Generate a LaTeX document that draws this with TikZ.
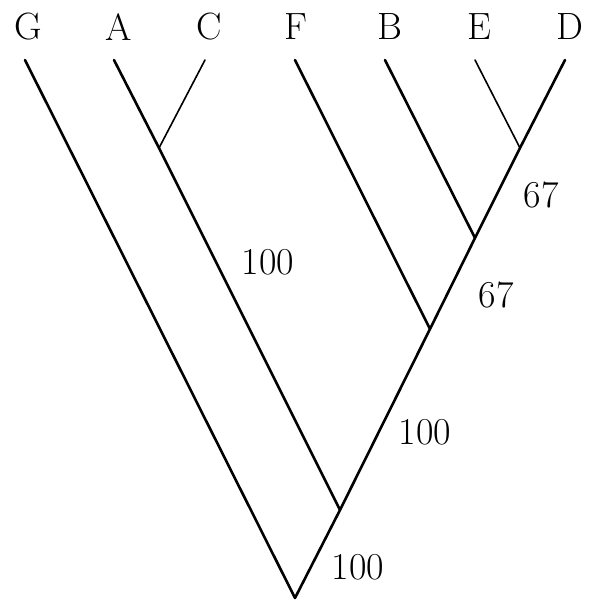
\documentclass[tikz,border=0pt]{standalone}
\usetikzlibrary{positioning}

\begin{document}
\begin{tikzpicture}[x=1pt, y=-1pt, line cap=round,
    branch/.style={line width=2.6pt},
    twig/.style={line width=1.6pt},
    taxon/.style={font=\fontsize{38}{40}\selectfont, inner sep=0pt},
    support/.style={font=\fontsize{38}{40}\selectfont, inner sep=0pt}]
    \useasboundingbox (0,0) rectangle (590,605);

    % internal nodes
    \coordinate (root) at (295,598);
    \coordinate (nAD) at (340,510);
    \coordinate (nFD) at (430,329);
    \coordinate (nBD) at (475,238);
    \coordinate (nED) at (520,148);
    \coordinate (nAC) at (159,148);

    % leaf tips
    \coordinate (tG) at (25,60);
    \coordinate (tA) at (114,60);
    \coordinate (tC) at (205,60);
    \coordinate (tF) at (295,60);
    \coordinate (tB) at (385,60);
    \coordinate (tE) at (475,60);
    \coordinate (tD) at (565,60);

    % leaf labels
    \node[taxon] (G) at (28,27) {G};
    \node[taxon] (A) at (119,27) {A};
    \node[taxon] (C) at (209,27) {C};
    \node[taxon] (F) at (296,27) {F};
    \node[taxon] (B) at (390,27) {B};
    \node[taxon] (E) at (479,27) {E};
    \node[taxon] (D) at (570,27) {D};

    \draw[branch] (root) -- (tG);
    \draw[branch] (root) -- (nAD) -- (nFD) -- (nBD) -- (nED) -- (tD);
    \draw[branch] (nAD) -- (nAC) -- (tA);
    \draw[branch] (nFD) -- (tF);
    \draw[branch] (nBD) -- (tB);
    \draw[twig] (nAC) -- (tC);
    \draw[twig] (nED) -- (tE);

    % support values
    \node[support] (s1) at (358,567) {100};
    \node[support] (s2) at (425,432) {100};
    \node[support] (s3) at (496,295) {67};
    \node[support] (s4) at (541,195) {67};
    \node[support] (s5) at (268,262) {100};
\end{tikzpicture}
\end{document}
